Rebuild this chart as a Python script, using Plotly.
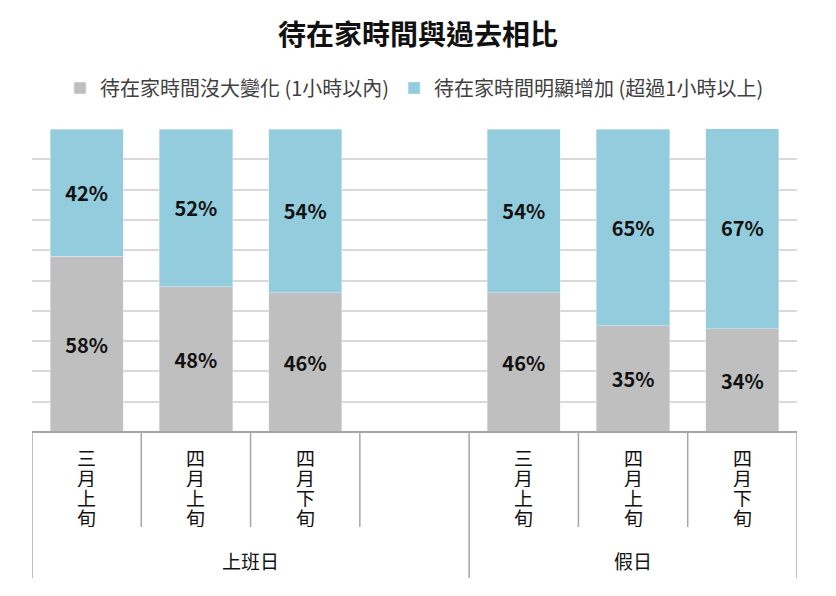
import plotly.graph_objects as go

# categories: (group, period); the empty slot separates the two groups
groups = ["上班日", "上班日", "上班日", "上班日", "假日", "假日", "假日"]
periods = ["三月上旬", "四月上旬", "四月下旬", "", "三月上旬", "四月上旬", "四月下旬"]
no_change = [58, 48, 46, None, 46, 35, 34]
increased = [42, 52, 54, None, 54, 65, 67]
y_ticks = list(range(0, 101, 10))

FONT = "Noto Sans CJK TC"
GRAY = "#BFBFBF"
BLUE = "#93CDDD"
AXIS = "#A6A6A6"

PLOT_H = 303  # plot height in px, used to place the hand-drawn axis labels


def main():
    x = list(range(len(periods)))
    fig = go.Figure()
    for vals, name, color in [
        (no_change, "待在家時間沒大變化 (1小時以內)", GRAY),
        (increased, "待在家時間明顯增加 (超過1小時以上)", BLUE),
    ]:
        fig.add_trace(go.Bar(
            x=x, y=vals, name=name, marker_color=color, width=0.67,
            texttemplate="<b>%{y}%</b>", textposition="inside",
            insidetextanchor="middle",
            textfont=dict(size=20, color="#111111", family=FONT),
        ))

    shapes = []
    annotations = []
    # axis line
    shapes.append(dict(type="line", xref="paper", yref="paper", x0=0, x1=1,
                       y0=0, y1=0, line=dict(color=AXIS, width=2)))
    # dividers between categories
    for i in range(len(periods) + 1):
        b = i - 0.5
        long_div = i == 0 or i == len(periods) or groups[i - 1] != groups[i]
        shapes.append(dict(type="line", xref="x", yref="paper", x0=b, x1=b,
                           y0=0, y1=-146 / PLOT_H if long_div else -95 / PLOT_H,
                           line=dict(color=AXIS, width=1.5)))
    # inner labels, one character per line (fixed 20px boxes so they stack tight)
    for i, p in enumerate(periods):
        for k, ch in enumerate(p):
            annotations.append(dict(
                x=i, y=-(25 + 20 * k) / PLOT_H, xref="x", yref="paper",
                showarrow=False, text=ch, yanchor="middle", height=20,
                font=dict(size=19, color="#111111", family=FONT)))
    # group labels
    seen = []
    for g in groups:
        if g not in seen:
            seen.append(g)
    for g in seen:
        idx = [i for i, gg in enumerate(groups) if gg == g]
        center = (idx[0] + idx[-1]) / 2
        annotations.append(dict(
            x=center, y=-128 / PLOT_H, xref="x", yref="paper", showarrow=False,
            text=g, yanchor="middle",
            font=dict(size=19, color="#111111", family=FONT)))

    # the page has an 8px body margin, so the figure is a bit smaller
    fig.update_layout(
        barmode="stack",
        width=820, height=580,
        margin=dict(l=24, r=31, t=121, b=156),
        paper_bgcolor="white", plot_bgcolor="white",
        font=dict(family=FONT, color="#333333"),
        title=dict(text="<b>待在家時間與過去相比</b>", x=0.5, y=1 - 27 / 580,
                   xanchor="center", yanchor="middle",
                   font=dict(size=28, color="#111111", family=FONT)),
        legend=dict(orientation="h", x=0.5, xanchor="center",
                    y=1 + 41 / PLOT_H, yanchor="middle",
                    font=dict(size=20, color="#404040"),
                    itemwidth=30, traceorder="normal"),
        xaxis=dict(range=[-0.5, len(periods) - 0.5], showticklabels=False,
                   showgrid=False, zeroline=False, fixedrange=True),
        yaxis=dict(range=[0, 100], tickvals=y_ticks, showticklabels=False,
                   showgrid=True, gridcolor="#D9D9D9", gridwidth=2,
                   zeroline=False, fixedrange=True),
        uniformtext=dict(minsize=20, mode="show"),
        shapes=shapes, annotations=annotations,
        showlegend=True,
    )
    fig.write_html("out.html")


if __name__ == "__main__":
    main()
